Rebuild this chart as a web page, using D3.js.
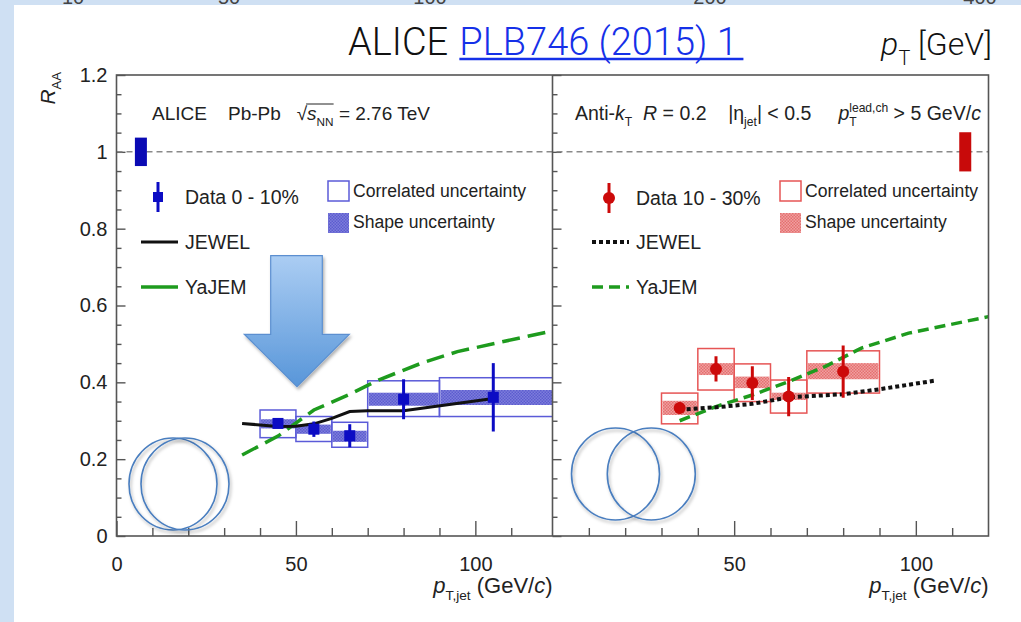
<!DOCTYPE html>
<html lang="en">
<head>
<meta charset="UTF-8">
<title>ALICE jet RAA</title>
<script src="https://d3js.org/d3.v7.min.js"></script>
<style>
  body { margin: 0; background: #cfe0f3; }
  svg { display: block; font-family: 'Liberation Sans', Arial, sans-serif; }
  text { white-space: pre; }
</style>
</head>
<body>
<svg id="chart" width="1021" height="622"></svg>
<script>
// ---- data ----
// 0-10% (left panel, blue)
const pt010      = [45, 55, 65, 80, 105];
const binLo010   = [40, 50, 60, 70, 90];
const binHi010   = [50, 60, 70, 90, 122];
const raa010     = [0.293, 0.278, 0.261, 0.356, 0.361];
const stat010    = [0.012, 0.02, 0.03, 0.052, 0.089];
const corrLo010  = [0.256, 0.246, 0.231, 0.311, 0.311];
const corrHi010  = [0.328, 0.311, 0.296, 0.404, 0.412];
const shapeLo010 = [0.280, 0.266, 0.245, 0.339, 0.341];
const shapeHi010 = [0.304, 0.290, 0.274, 0.373, 0.380];
const jewelPt010 = [35, 45, 50, 55, 60, 65, 70, 80, 105];
const jewel010   = [0.293, 0.285, 0.286, 0.292, 0.306, 0.324, 0.326, 0.326, 0.358];
const yajemPt010 = [35, 45, 55, 65, 73, 85, 95, 122];
const yajem010   = [0.211, 0.26, 0.328, 0.369, 0.406, 0.45, 0.48, 0.535];

// 10-30% (right panel, red)
const pt1030      = [35, 45, 55, 65, 80];
const binLo1030   = [30, 40, 50, 60, 70];
const binHi1030   = [40, 50, 60, 70, 90];
const raa1030     = [0.333, 0.435, 0.398, 0.363, 0.428];
const stat1030    = [0.015, 0.033, 0.044, 0.051, 0.068];
const corrLo1030  = [0.292, 0.380, 0.350, 0.320, 0.372];
const corrHi1030  = [0.372, 0.488, 0.448, 0.406, 0.482];
const shapeLo1030 = [0.315, 0.419, 0.385, 0.354, 0.408];
const shapeHi1030 = [0.352, 0.450, 0.415, 0.373, 0.450];
const jewelPt1030 = [35, 45, 55, 65, 80, 90, 105];
const jewel1030   = [0.329, 0.335, 0.344, 0.361, 0.369, 0.382, 0.404];
const yajemPt1030 = [35, 45, 55, 65, 75, 85, 98, 120];
const yajem1030   = [0.30, 0.337, 0.367, 0.402, 0.441, 0.489, 0.528, 0.571];

// global normalisation uncertainty boxes at RAA = 1
const globalPt  = [6.8, 113.6];
const globalUnc = [0.037, 0.051];

// axis ticks
const yTicks = [0, 0.2, 0.4, 0.6, 0.8, 1, 1.2];
const xMajor = [0, 50, 100];
const topScaleLabels = ['10', '50', '100', '200', '400'];

// ---- layout ----
const W = 1021, H = 622;
const svg = d3.select('#chart');
const y = d3.scaleLinear().domain([0, 1.2]).range([536, 75]);
const xL = d3.scaleLinear().domain([0, 121.5]).range([116.5, 552.5]);
const xR = d3.scaleLinear().domain([0, 120]).range([552.5, 988.5]);
const axisCol = '#555';

const defs = svg.append('defs');
function hatch(id, bg, fg) {
    const p = defs.append('pattern').attr('id', id).attr('width', 3).attr('height', 3)
        .attr('patternUnits', 'userSpaceOnUse');
    p.append('rect').attr('width', 3).attr('height', 3).attr('fill', bg);
    p.append('rect').attr('width', 1.5).attr('height', 1.5).attr('fill', fg);
    p.append('rect').attr('x', 1.5).attr('y', 1.5).attr('width', 1.5).attr('height', 1.5).attr('fill', fg);
}
hatch('hatchBlue', '#7d7ddc', '#5c5ccf');
hatch('hatchRed', '#f0a0a0', '#e47070');
const grad = defs.append('linearGradient').attr('id', 'arrowGrad').attr('x1', 0).attr('y1', 0).attr('x2', 0).attr('y2', 1);
grad.append('stop').attr('offset', '0%').attr('stop-color', '#abcdf3');
grad.append('stop').attr('offset', '100%').attr('stop-color', '#5896d9');
const shadow = defs.append('filter').attr('id', 'shadow').attr('x', '-20%').attr('y', '-20%').attr('width', '140%').attr('height', '140%');
shadow.append('feDropShadow').attr('dx', 1.5).attr('dy', 2.5).attr('stdDeviation', 1.8).attr('flood-opacity', 0.3);
defs.append('clipPath').attr('id', 'clipL').append('rect')
    .attr('x', 116.5).attr('y', 75).attr('width', 436).attr('height', 461);
defs.append('clipPath').attr('id', 'clipR').append('rect')
    .attr('x', 552.5).attr('y', 75).attr('width', 436).attr('height', 461);

// slide background
svg.append('rect').attr('width', W).attr('height', H).attr('fill', '#cfe0f3');
svg.append('rect').attr('x', 14).attr('y', 5).attr('width', W - 14).attr('height', H - 5).attr('fill', '#fff');

// labels of the slide's previous axis, mostly scrolled off the top
const topX = [73, 229, 430, 710, 980];
svg.selectAll('.topLab').data(topScaleLabels).enter().append('text')
    .attr('x', (d, i) => topX[i]).attr('y', 4).attr('text-anchor', 'middle')
    .attr('font-size', 20).attr('fill', '#444').text(d => d);

// rich text helper: parts drawn one after another
function rich(g, x, y0, parts, fs) {
    let cx = x;
    parts.forEach(p => {
        const s = p.small ? fs * 0.62 : fs;
        const dy = p.sub ? fs * 0.3 : p.sup ? -fs * 0.42 : 0;
        const t = g.append('text').attr('x', cx).attr('y', y0 + dy)
            .attr('font-size', s)
            .attr('font-style', p.it ? 'italic' : 'normal')
            .attr('fill', p.fill || '#222')
            .text(p.t);
        if (p.family) t.attr('font-family', p.family);
        const w = t.node().getComputedTextLength();
        p.x0 = cx; p.w = w;
        if (!p.hold) cx += w;
    });
    return cx;
}

// ---- title ----
const title = svg.append('g');
const tParts = [{ t: 'ALICE ', fill: '#111' }, { t: 'PLB746 (2015) 1', fill: '#1530e8' }];
tParts.forEach(p => p.family = 'Roboto, Liberation Sans, sans-serif');
rich(title, 348, 55, tParts, 38);
title.selectAll('text').attr('font-weight', 300);
title.append('line').attr('x1', tParts[1].x0).attr('x2', tParts[1].x0 + tParts[1].w)
    .attr('y1', 59).attr('y2', 59).attr('stroke', '#1530e8').attr('stroke-width', 2.5);
const ptLab = svg.append('g');
rich(ptLab, 881, 55, [
    { t: 'p', it: true, family: 'Roboto, sans-serif' },
    { t: 'T', sub: true, small: true, family: 'Roboto, sans-serif' },
    { t: ' [GeV]', family: 'Roboto, sans-serif' }
], 32);
ptLab.selectAll('text').attr('font-weight', 300).attr('fill', '#111');

// ---- frame & axes ----
function axesFor(x, labelX, labels) {
    const minor = d3.range(10, 120, 10).filter(v => v % 50 !== 0);
    const gx = svg.append('g').attr('transform', 'translate(0,536)');
    gx.call(d3.axisBottom(x).tickValues(minor).tickSize(-8).tickFormat(''));
    const major = labels ? xMajor : xMajor.slice(1);
    gx.append('g').call(d3.axisBottom(x).tickValues(major).tickSize(-15).tickPadding(21).tickFormat(d3.format('d')));
    gx.selectAll('.domain').remove();
    gx.selectAll('line').attr('stroke', axisCol).attr('stroke-width', 1.4);
    gx.selectAll('text').attr('font-size', 20).attr('fill', '#222').attr('font-family', 'Liberation Sans, Arial, sans-serif');

    const yMinor = d3.range(0.05, 1.2, 0.05).filter(v => Math.abs(v * 5 - Math.round(v * 5)) > 1e-6);
    const gy = svg.append('g').attr('transform', `translate(${labelX},0)`);
    gy.call(d3.axisLeft(y).tickValues(yMinor).tickSize(-5).tickFormat(''));
    const ay = d3.axisLeft(y).tickValues(yTicks).tickSize(-9).tickPadding(9);
    ay.tickFormat(labels ? d => d3.format('~g')(d) : '');
    gy.append('g').call(ay);
    gy.selectAll('.domain').remove();
    gy.selectAll('line').attr('stroke', axisCol).attr('stroke-width', 1.4);
    gy.selectAll('text').attr('font-size', 20).attr('fill', '#222').attr('font-family', 'Liberation Sans, Arial, sans-serif');
}
axesFor(xL, 116.5, true);
axesFor(xR, 552.5, false);

// unity line
svg.append('line').attr('x1', xL(0)).attr('x2', xR(120)).attr('y1', y(1)).attr('y2', y(1))
    .attr('stroke', '#8a8a8a').attr('stroke-width', 1.5).attr('stroke-dasharray', '6,4');

// ---- panel content ----
function drawPanel(x, clip, o) {
    const g = svg.append('g').attr('clip-path', `url(#${clip})`);
    const idx = d3.range(o.pt.length);
    g.selectAll('.corr').data(idx).enter().append('rect')
        .attr('x', i => x(o.lo[i])).attr('width', i => x(o.hi[i]) - x(o.lo[i]))
        .attr('y', i => y(o.corrHi[i])).attr('height', i => y(o.corrLo[i]) - y(o.corrHi[i]))
        .attr('fill', 'none').attr('stroke', o.boxCol).attr('stroke-width', 1.5);
    g.selectAll('.shape').data(idx).enter().append('rect')
        .attr('x', i => x(o.lo[i]) + 1).attr('width', i => x(o.hi[i]) - x(o.lo[i]) - 2)
        .attr('y', i => y(o.shapeHi[i])).attr('height', i => y(o.shapeLo[i]) - y(o.shapeHi[i]))
        .attr('fill', `url(#${o.hatch})`);
    const line = d3.line().x(d => x(d[0])).y(d => y(d[1]));
    g.append('path').datum(d3.zip(o.yajemPt, o.yajem)).attr('d', line)
        .attr('fill', 'none').attr('stroke', '#1e9b1e').attr('stroke-width', 3.5)
        .attr('stroke-dasharray', o.yajemDash);
    g.append('path').datum(d3.zip(o.jewelPt, o.jewel)).attr('d', line)
        .attr('fill', 'none').attr('stroke', '#111').attr('stroke-width', o.jewelW)
        .attr('stroke-dasharray', o.jewelDash);
    g.selectAll('.err').data(idx).enter().append('line')
        .attr('x1', i => x(o.pt[i])).attr('x2', i => x(o.pt[i]))
        .attr('y1', i => y(o.raa[i] + o.stat[i])).attr('y2', i => y(o.raa[i] - o.stat[i]))
        .attr('stroke', o.markCol).attr('stroke-width', 3);
    if (o.square) {
        g.selectAll('.mk').data(idx).enter().append('rect')
            .attr('x', i => x(o.pt[i]) - 5.5).attr('y', i => y(o.raa[i]) - 5.5)
            .attr('width', 11).attr('height', 11).attr('fill', o.markCol);
    } else {
        g.selectAll('.mk').data(idx).enter().append('circle')
            .attr('cx', i => x(o.pt[i])).attr('cy', i => y(o.raa[i])).attr('r', 6).attr('fill', o.markCol);
    }
}
drawPanel(xL, 'clipL', {
    pt: pt010, lo: binLo010, hi: binHi010, raa: raa010, stat: stat010,
    corrLo: corrLo010, corrHi: corrHi010, shapeLo: shapeLo010, shapeHi: shapeHi010,
    jewelPt: jewelPt010, jewel: jewel010, yajemPt: yajemPt010, yajem: yajem010,
    boxCol: '#5b5bd8', hatch: 'hatchBlue', markCol: '#0c0cc4', square: true,
    yajemDash: '18,8', jewelDash: null, jewelW: 3
});
drawPanel(xR, 'clipR', {
    pt: pt1030, lo: binLo1030, hi: binHi1030, raa: raa1030, stat: stat1030,
    corrLo: corrLo1030, corrHi: corrHi1030, shapeLo: shapeLo1030, shapeHi: shapeHi1030,
    jewelPt: jewelPt1030, jewel: jewel1030, yajemPt: yajemPt1030, yajem: yajem1030,
    boxCol: '#e65555', hatch: 'hatchRed', markCol: '#cc0a0a', square: false,
    yajemDash: '11,6', jewelDash: '4,3', jewelW: 4
});

// global uncertainty boxes
[[xL, '#0a0ab4'], [xR, '#c80a0a']].forEach(([x, col], i) => {
    svg.append('rect').attr('x', x(globalPt[i]) - 6).attr('width', 12)
        .attr('y', y(1 + globalUnc[i])).attr('height', y(1 - globalUnc[i]) - y(1 + globalUnc[i]))
        .attr('fill', col);
});

// frame
svg.append('rect').attr('x', 116.5).attr('y', 75).attr('width', 872).attr('height', 461)
    .attr('fill', 'none').attr('stroke', axisCol).attr('stroke-width', 1.6);
svg.append('line').attr('x1', 552.5).attr('x2', 552.5).attr('y1', 75).attr('y2', 536)
    .attr('stroke', axisCol).attr('stroke-width', 1.6);

// ---- axis titles ----
const yt = svg.append('g');
const ytEnd = rich(yt, 0, 0, [{ t: 'R', it: true }, { t: 'AA', sub: true, small: true }], 21);
yt.attr('transform', `translate(55,${72 + ytEnd}) rotate(-90)`);
[552.5, 988.5].forEach(xr => {
    const g = svg.append('g');
    const end = rich(g, 0, 593, [
        { t: 'p', it: true }, { t: 'T,jet', sub: true, small: true }, { t: ' (GeV/' }, { t: 'c', it: true }, { t: ')' }
    ], 22);
    g.attr('transform', `translate(${xr - end},0)`);
});

// ---- headers ----
const hl = svg.append('g');
const hp = [{ t: 'ALICE    Pb-Pb   ' }, { t: '√' }, { t: 's', it: true }, { t: 'NN', sub: true, small: true }, { t: ' = 2.76 TeV' }];
rich(hl, 152, 120, hp, 19);
hl.append('line').attr('x1', hp[1].x0 + hp[1].w - 1).attr('x2', hp[3].x0 + hp[3].w)
    .attr('y1', 104).attr('y2', 104).attr('stroke', '#222').attr('stroke-width', 1);
rich(svg.append('g'), 575, 120, [
    { t: 'Anti-' }, { t: 'k', it: true }, { t: 'T', sub: true, small: true }, { t: '  ' },
    { t: 'R', it: true }, { t: ' = 0.2    |η' }, { t: 'jet', sub: true, small: true }, { t: '| < 0.5     ' },
    { t: 'p', it: true }, { t: 'T', sub: true, small: true, hold: true }, { t: 'lead,ch', sup: true, small: true },
    { t: ' > 5 GeV/' }, { t: 'c', it: true }
], 19.5);

// ---- legends ----
function legend(o) {
    const g = svg.append('g');
    g.append('line').attr('x1', o.mx).attr('x2', o.mx).attr('y1', o.my - 15).attr('y2', o.my + 15)
        .attr('stroke', o.markCol).attr('stroke-width', 3);
    if (o.square) g.append('rect').attr('x', o.mx - 5).attr('y', o.my - 5).attr('width', 10).attr('height', 10).attr('fill', o.markCol);
    else g.append('circle').attr('cx', o.mx).attr('cy', o.my).attr('r', 6).attr('fill', o.markCol);
    const rows = [o.dataLabel, 'JEWEL', 'YaJEM'];
    const rowY = [o.my, 242, 287];
    rows.forEach((r, i) => g.append('text').attr('x', o.tx).attr('y', rowY[i] + 7)
        .attr('font-size', 19.5).attr('fill', '#222').text(r));
    g.append('line').attr('x1', o.lx1).attr('x2', o.lx2).attr('y1', 242).attr('y2', 242)
        .attr('stroke', '#111').attr('stroke-width', o.jewelW).attr('stroke-dasharray', o.jewelDash);
    g.append('line').attr('x1', o.lx1).attr('x2', o.lx2).attr('y1', 287).attr('y2', 287)
        .attr('stroke', '#1e9b1e').attr('stroke-width', 3.5).attr('stroke-dasharray', o.yajemDash);
    g.append('rect').attr('x', o.bx).attr('y', 181).attr('width', 21).attr('height', 20)
        .attr('fill', 'none').attr('stroke', o.boxCol).attr('stroke-width', 1.5);
    g.append('rect').attr('x', o.bx).attr('y', 213).attr('width', 21).attr('height', 20)
        .attr('fill', `url(#${o.hatch})`);
    g.append('text').attr('x', o.bx + 25).attr('y', 197).attr('font-size', 17.6).attr('fill', '#222').text('Correlated uncertainty');
    g.append('text').attr('x', o.bx + 25).attr('y', 228).attr('font-size', 17.6).attr('fill', '#222').text('Shape uncertainty');
}
legend({ mx: 158, my: 197, tx: 185, lx1: 141, lx2: 178, bx: 328, dataLabel: 'Data 0 - 10%',
    markCol: '#0c0cc4', square: true, boxCol: '#5b5bd8', hatch: 'hatchBlue',
    jewelW: 3, jewelDash: null, yajemDash: null });
legend({ mx: 609, my: 198, tx: 636, lx1: 592, lx2: 629, bx: 780, dataLabel: 'Data 10 - 30%',
    markCol: '#cc0a0a', square: false, boxCol: '#e65555', hatch: 'hatchRed',
    jewelW: 4, jewelDash: '4,3', yajemDash: '11,6' });

// ---- slide annotations (arrow + circles) ----
const arrow = [[270.7, 255.7], [322.3, 255.7], [322.3, 334.3], [349.3, 334.3], [297, 386.7],
               [244.3, 334.3], [270.7, 334.3]];
svg.append('path').attr('d', d3.line()(arrow) + 'Z')
    .attr('fill', 'url(#arrowGrad)').attr('stroke', '#5b8fd0').attr('stroke-width', 1.2)
    .attr('filter', 'url(#shadow)');
const rings = [[173, 484], [185, 484], [615.5, 474], [651.3, 474]];
svg.selectAll('.ring').data(rings).enter().append('ellipse')
    .attr('cx', d => d[0]).attr('cy', d => d[1]).attr('rx', 44).attr('ry', 46)
    .attr('fill', 'none').attr('stroke', '#4a7ebf').attr('stroke-width', 1.6)
    .attr('filter', 'url(#shadow)');
</script>
</body>
</html>
